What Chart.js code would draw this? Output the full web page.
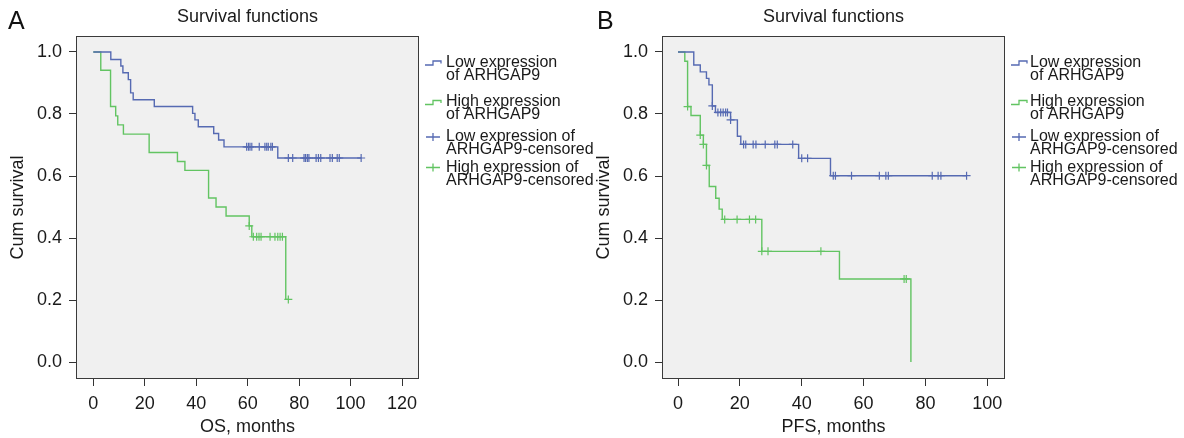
<!DOCTYPE html>
<html>
<head>
<meta charset="utf-8">
<script src="https://cdn.jsdelivr.net/npm/chart.js@4.4.0/dist/chart.umd.min.js"></script>
<style>
body { margin: 0; background: #fff; }
#contenedor { position: relative; width: 1184px; height: 438px; }
.panel { position: absolute; top: 0; height: 438px; }
</style>
</head>
<body>
<div id="contenedor">
    <div class="panel" style="left:0;width:600px"><canvas id="chartA" width="600" height="438"></canvas></div>
    <div class="panel" style="left:592px;width:592px"><canvas id="chartB" width="592" height="438"></canvas></div>
</div>
<script>
//--------------------------------------DATOS
var yTicks = [0, 0.2, 0.4, 0.6, 0.8, 1.0];

// A: OS
var osTicks = [0, 20, 40, 60, 80, 100, 120];
var osLowT = [0, 6.8, 10.7, 11.5, 13.6, 14.5, 15.5, 23.7, 38.6, 39.5, 40.8, 46.8, 48.7, 50.8, 71.7, 104.1];
var osLowS = [1, 0.976, 0.955, 0.933, 0.911, 0.868, 0.846, 0.824, 0.802, 0.781, 0.759, 0.737, 0.716, 0.694, 0.658, 0.658];
var osLowCensT = [59.6, 60.3, 60.9, 61.6, 64.5, 66.7, 67.4, 68.0, 69.0, 69.6,
    75.8, 77.5, 81.9, 82.5, 83.2, 83.8, 86.6, 87.5, 88.4, 92.0, 92.9, 94.8, 95.6, 104.1];
var osLowCensS = [0.694, 0.694, 0.694, 0.694, 0.694, 0.694, 0.694, 0.694, 0.694, 0.694,
    0.658, 0.658, 0.658, 0.658, 0.658, 0.658, 0.658, 0.658, 0.658, 0.658, 0.658, 0.658, 0.658, 0.658];
var osHighT = [0, 2.9, 6.7, 8.7, 9.5, 11.7, 21.7, 32.7, 35.6, 44.8, 47.7, 51.6, 60.6, 61.6, 74.8, 75.8];
var osHighS = [1, 0.941, 0.824, 0.794, 0.765, 0.735, 0.676, 0.647, 0.618, 0.529, 0.5, 0.471, 0.439, 0.404, 0.202, 0.202];
var osHighCensT = [60.6, 62.2, 63.5, 64.4, 65.2, 68.7, 70.6, 71.7, 72.6, 73.5, 75.8];
var osHighCensS = [0.439, 0.404, 0.404, 0.404, 0.404, 0.404, 0.404, 0.404, 0.404, 0.404, 0.202];

// B: PFS
var pfsTicks = [0, 20, 40, 60, 80, 100];
var pfsLowT = [0, 5.1, 7.2, 9.2, 10.0, 11.1, 12.1, 17.0, 19.2, 20.3, 39.0, 49.3, 93.3];
var pfsLowS = [1, 0.958, 0.936, 0.915, 0.894, 0.826, 0.805, 0.781, 0.728, 0.702, 0.657, 0.601, 0.601];
var pfsLowCensT = [11.1, 12.9, 13.8, 14.6, 15.4, 16.0, 17.0,
    21.2, 21.9, 24.3, 25.2, 28.2, 31.3, 32.1, 37.1, 40.0, 41.9,
    50.2, 50.9, 56.1, 65.1, 67.2, 68.0, 82.2, 84.1, 85.0, 93.3];
var pfsLowCensS = [0.826, 0.805, 0.805, 0.805, 0.805, 0.805, 0.781,
    0.702, 0.702, 0.702, 0.702, 0.702, 0.702, 0.702, 0.702, 0.657, 0.657,
    0.601, 0.601, 0.601, 0.601, 0.601, 0.601, 0.601, 0.601, 0.601, 0.601];
var pfsHighT = [0, 2.2, 3.1, 4.2, 7.2, 8.2, 9.2, 10.1, 12.2, 13.3, 14.3, 27.1, 52.2, 75.3];
var pfsHighS = [1, 0.970, 0.824, 0.795, 0.732, 0.702, 0.634, 0.566, 0.528, 0.493, 0.460, 0.357, 0.268, 0];
var pfsHighCensT = [3.1, 7.2, 8.2, 9.2, 15.1, 19.1, 23.1, 25.1, 27.1, 29.1, 46.2, 73.1, 73.8];
var pfsHighCensS = [0.824, 0.732, 0.702, 0.634, 0.460, 0.460, 0.460, 0.460, 0.357, 0.357, 0.357, 0.268, 0.268];

var legendLabels = [
    ["Low expression", "of ARHGAP9"],
    ["High expression", "of ARHGAP9"],
    ["Low expression of", "ARHGAP9-censored"],
    ["High expression of", "ARHGAP9-censored"]
];

var colorLow = "rgb(86,106,178)";
var colorHigh = "rgb(98,196,98)";
var fuente = "'Liberation Sans', Arial, Helvetica, sans-serif";

//--------------------------------------UTILIDADES
function puntos(t, s) {
    var arr = [];
    for (var i = 0; i < t.length; i++) {
        arr.push({x: t[i], y: s[i]});
    }
    return arr;
}

// fondo gris, marco, leyenda y letra del panel
var marcoKM = {
    id: 'marcoKM',
    beforeDraw: function (chart) {
        var a = chart.chartArea;
        var ctx = chart.ctx;
        ctx.save();
        ctx.fillStyle = '#f0f0f0';
        ctx.fillRect(a.left, a.top, a.right - a.left, a.bottom - a.top);
        ctx.restore();
    },
    beforeDatasetsDraw: function (chart) {
        var a = chart.chartArea;
        var ctx = chart.ctx;
        ctx.save();
        ctx.strokeStyle = '#3a3a3a';
        ctx.lineWidth = 1;
        ctx.strokeRect(Math.round(a.left) - 0.5, Math.round(a.top) + 0.5, Math.round(a.right - a.left) + 1, Math.round(a.bottom - a.top) - 1);
        ctx.restore();
    },
    afterDraw: function (chart, args, opts) {
        var a = chart.chartArea;
        var ctx = chart.ctx;
        var filas = [62.5, 102, 137, 167.5];
        var colores = [colorLow, colorHigh, colorLow, colorHigh];
        ctx.save();
        // letra del panel
        ctx.fillStyle = '#111';
        ctx.font = "25px " + fuente;
        ctx.textBaseline = 'middle';
        ctx.textAlign = 'left';
        ctx.fillText(opts.letra, opts.letraX, 22);

        ctx.font = "16px " + fuente;
        for (var i = 0; i < legendLabels.length; i++) {
            var x0 = a.right + 7;
            var y = filas[i];
            ctx.strokeStyle = colores[i];
            ctx.lineWidth = 1.3;
            ctx.beginPath();
            if (i < 2) {
                ctx.moveTo(x0, y + 2.5);
                ctx.lineTo(x0 + 8, y + 2.5);
                ctx.lineTo(x0 + 8, y - 1.5);
                ctx.lineTo(x0 + 16, y - 1.5);
                ctx.lineTo(x0 + 16, y + 1);
            } else {
                ctx.moveTo(x0 + 1, y);
                ctx.lineTo(x0 + 15, y);
                ctx.moveTo(x0 + 8, y - 4);
                ctx.lineTo(x0 + 8, y + 4);
            }
            ctx.stroke();
            ctx.fillStyle = '#1a1a1a';
            ctx.fillText(legendLabels[i][0], a.right + opts.textoX, y);
            ctx.fillText(legendLabels[i][1], a.right + opts.textoX, y + 12.7);
        }
        ctx.restore();
    }
};

//--------------------------------------GRAFICA
function graficaKM(idCanvas, cfg) {
    var fontTicks = {family: fuente, size: 18};
    var popCanvas = document.getElementById(idCanvas);
    return new Chart(popCanvas, {
        type: 'line',
        data: {
            datasets: [{
                label: 'Low expression of ARHGAP9',
                data: puntos(cfg.lowT, cfg.lowS),
                borderColor: colorLow,
                borderWidth: 1.4,
                stepped: true,
                pointRadius: 0,
                fill: false
            }, {
                label: 'High expression of ARHGAP9',
                data: puntos(cfg.highT, cfg.highS),
                borderColor: colorHigh,
                borderWidth: 1.4,
                stepped: true,
                pointRadius: 0,
                fill: false
            }, {
                label: 'Low expression of ARHGAP9-censored',
                data: puntos(cfg.lowCensT, cfg.lowCensS),
                showLine: false,
                pointStyle: 'cross',
                pointRadius: 4,
                borderColor: colorLow,
                borderWidth: 1.2
            }, {
                label: 'High expression of ARHGAP9-censored',
                data: puntos(cfg.highCensT, cfg.highCensS),
                showLine: false,
                pointStyle: 'cross',
                pointRadius: 4,
                borderColor: colorHigh,
                borderWidth: 1.2
            }]
        },
        options: {
            responsive: false,
            animation: false,
            devicePixelRatio: 1,
            events: [],
            layout: {padding: {left: 0, right: cfg.padRight, top: 0, bottom: 0}},
            plugins: {
                legend: {display: false},
                tooltip: {enabled: false},
                title: {
                    display: true,
                    text: 'Survival functions',
                    fullSize: false,
                    color: '#1a1a1a',
                    font: {family: fuente, size: 18, weight: 'normal'},
                    padding: {top: 6, bottom: 8.4}
                },
                marcoKM: {letra: cfg.letra, letraX: cfg.letraX, textoX: cfg.textoX}
            },
            scales: {
                x: {
                    type: 'linear',
                    min: cfg.xMin,
                    max: cfg.xMax,
                    afterBuildTicks: function (scale) {
                        scale.ticks = cfg.xTicks.map(function (v) { return {value: v}; });
                    },
                    afterFit: function (scale) { scale.height = 59; },
                    grid: {drawOnChartArea: false, drawTicks: true, tickLength: 7, color: '#333'},
                    border: {display: false},
                    ticks: {color: '#1a1a1a', font: fontTicks, padding: 7, maxRotation: 0,
                        callback: function (v) { return v; }},
                    title: {display: true, text: cfg.xTitulo, color: '#1a1a1a', font: fontTicks, padding: {top: 0, bottom: 0}}
                },
                y: {
                    type: 'linear',
                    min: -0.0548,
                    max: 1.0516,
                    afterBuildTicks: function (scale) {
                        scale.ticks = yTicks.map(function (v) { return {value: v}; });
                    },
                    afterFit: function (scale) { scale.width = cfg.yAncho; },
                    grid: {drawOnChartArea: false, drawTicks: true, tickLength: 8, color: '#333'},
                    border: {display: false},
                    ticks: {color: '#1a1a1a', font: fontTicks, padding: 7,
                        callback: function (v) { return v.toFixed(1); }},
                    title: {display: true, text: 'Cum survival', color: '#1a1a1a', font: fontTicks, padding: {top: cfg.yTitPad, bottom: 0}}
                }
            }
        },
        plugins: [marcoKM]
    });
}

graficaKM('chartA', {
    lowT: osLowT, lowS: osLowS, highT: osHighT, highS: osHighS,
    lowCensT: osLowCensT, lowCensS: osLowCensS, highCensT: osHighCensT, highCensS: osHighCensS,
    xTicks: osTicks, xMin: -6.34, xMax: 126.2, xTitulo: 'OS, months',
    padRight: 182, yAncho: 77, yTitPad: 7, letra: 'A', letraX: 8, textoX: 28
});

graficaKM('chartB', {
    lowT: pfsLowT, lowS: pfsLowS, highT: pfsHighT, highS: pfsHighS,
    lowCensT: pfsLowCensT, lowCensS: pfsLowCensS, highCensT: pfsHighCensT, highCensS: pfsHighCensS,
    xTicks: pfsTicks, xMin: -4.85, xMax: 105.4, xTitulo: 'PFS, months',
    padRight: 180, yAncho: 71, yTitPad: 1, letra: 'B', letraX: 5, textoX: 26
});
</script>
</body>
</html>
